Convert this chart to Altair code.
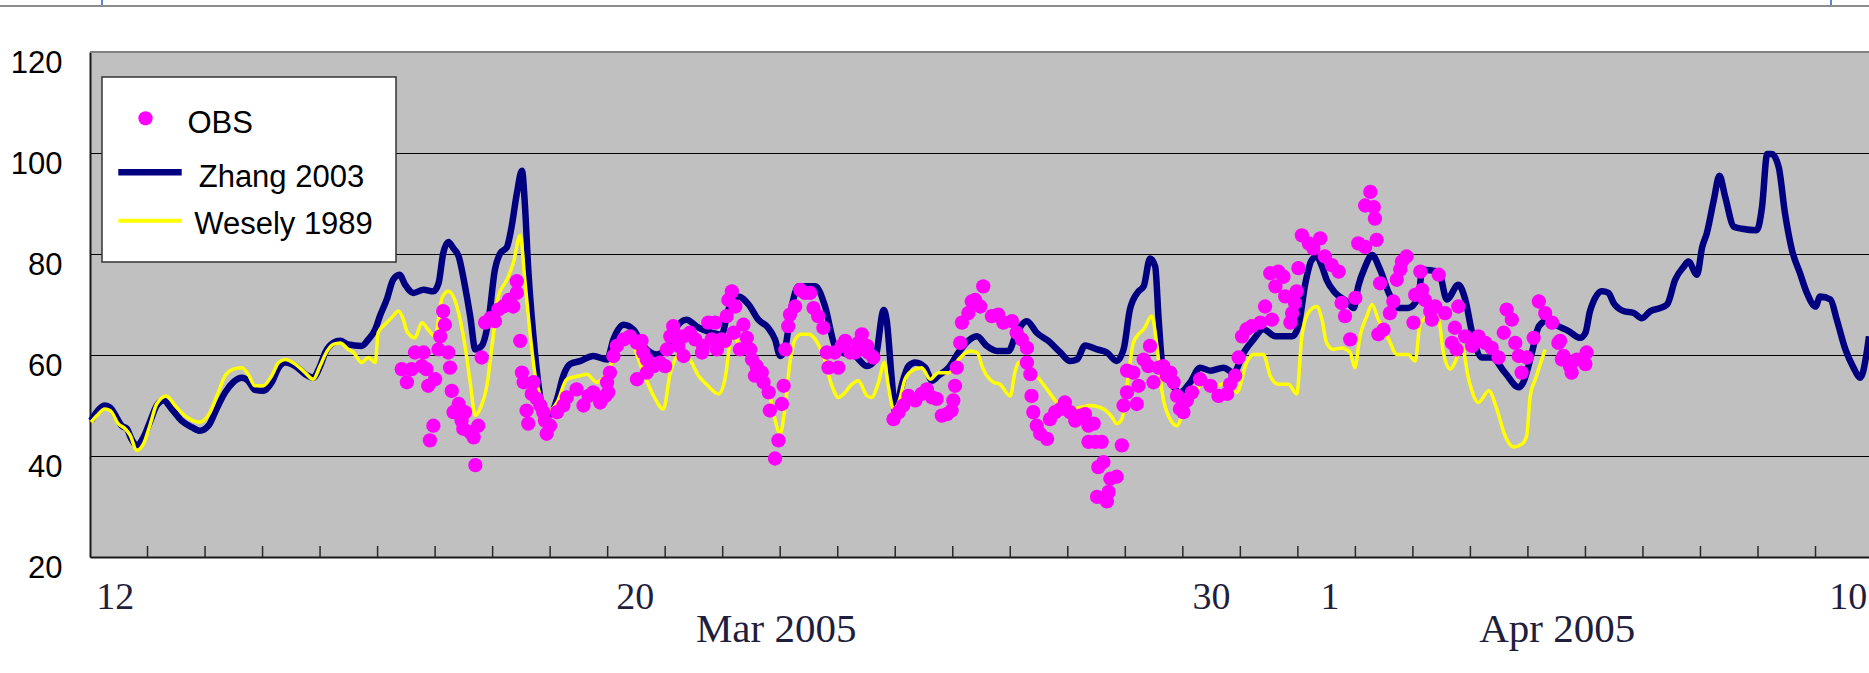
import altair as alt
import pandas as pd

# ---- data (x = days after the first tick, y = concentration) ----
ZHANG = [
    (0.02, 47.0), (0.09, 48.3), (0.26, 50.0), (0.35, 49.6), (0.46, 47.7), (0.55, 46.0), (0.64, 45.4),
    (0.72, 43.4), (0.81, 42.1), (0.93, 43.7), (1.04, 46.7), (1.16, 50.0), (1.28, 51.0), (1.42, 49.3),
    (1.59, 47.0), (1.77, 45.7), (1.91, 45.0), (2.06, 46.0), (2.20, 49.3), (2.35, 52.6), (2.49, 54.6),
    (2.64, 55.5), (2.75, 54.9), (2.87, 53.1), (3.01, 52.9), (3.16, 54.6), (3.28, 57.5), (3.39, 58.5),
    (3.57, 57.8), (3.74, 56.2), (3.88, 55.5), (4.00, 57.8), (4.09, 60.5), (4.23, 62.4), (4.35, 62.8),
    (4.49, 62.1), (4.72, 61.8), (4.84, 63.1), (4.96, 65.1), (5.04, 67.7), (5.16, 71.0), (5.27, 74.9),
    (5.38, 75.9), (5.48, 73.9), (5.62, 72.3), (5.80, 72.9), (5.97, 72.6), (6.06, 74.2), (6.14, 80.1),
    (6.23, 82.4), (6.32, 81.1), (6.41, 79.5), (6.52, 73.6), (6.61, 67.7), (6.70, 61.1), (6.81, 61.8),
    (6.93, 67.0), (7.04, 76.9), (7.13, 80.1), (7.25, 81.4), (7.33, 85.4), (7.42, 91.9), (7.51, 96.5),
    (7.56, 90.0), (7.62, 76.9), (7.71, 63.7), (7.80, 53.9), (7.88, 48.7), (8.00, 48.3), (8.12, 51.3),
    (8.23, 55.9), (8.35, 58.2), (8.52, 58.8), (8.75, 59.8), (8.99, 59.1), (9.10, 63.1), (9.28, 66.0),
    (9.45, 65.0), (9.62, 61.8), (9.85, 60.1), (10.03, 61.1), (10.17, 65.0), (10.37, 67.0), (10.58, 65.4),
    (10.81, 64.4), (10.98, 64.0), (11.10, 69.0), (11.27, 71.6), (11.45, 70.0), (11.62, 67.0), (11.79, 65.4),
    (11.91, 63.1), (12.00, 59.8), (12.08, 61.1), (12.20, 69.6), (12.32, 73.6), (12.61, 73.6), (12.78, 69.6),
    (12.95, 61.8), (13.07, 60.5), (13.30, 59.8), (13.51, 57.8), (13.65, 59.1), (13.80, 68.9), (13.85, 67.0),
    (13.94, 55.2), (14.00, 48.7), (14.11, 53.9), (14.23, 57.8), (14.35, 58.5), (14.52, 57.5), (14.64, 54.9),
    (14.75, 55.9), (14.93, 57.5), (15.10, 60.5), (15.30, 63.1), (15.42, 63.7), (15.59, 61.8), (15.77, 60.8),
    (15.97, 60.8), (16.11, 64.4), (16.29, 66.7), (16.46, 64.4), (16.66, 62.8), (16.87, 60.5), (17.04, 58.8),
    (17.16, 59.1), (17.30, 61.9), (17.51, 61.1), (17.68, 60.5), (17.85, 58.8), (17.97, 61.1), (18.08, 69.0),
    (18.23, 72.6), (18.32, 73.6), (18.43, 79.1), (18.52, 77.5), (18.58, 67.0), (18.66, 56.5), (18.78, 54.6),
    (18.95, 52.6), (19.13, 54.6), (19.30, 57.5), (19.48, 56.9), (19.71, 57.5), (19.88, 56.5), (20.06, 60.5),
    (20.23, 63.1), (20.40, 65.1), (20.61, 63.7), (20.90, 63.7), (21.01, 65.7), (21.13, 74.2), (21.24, 78.8),
    (21.33, 79.5), (21.42, 77.5), (21.50, 74.9), (21.65, 72.3), (21.85, 70.6), (21.97, 69.3), (22.05, 73.6),
    (22.17, 77.5), (22.29, 79.8), (22.43, 76.9), (22.58, 72.3), (22.75, 69.3), (22.92, 69.3), (23.10, 71.6),
    (23.16, 76.9), (23.45, 76.5), (23.59, 71.0), (23.79, 73.9), (23.91, 71.0), (24.03, 64.4), (24.20, 59.5),
    (24.37, 59.5), (24.60, 56.5), (24.84, 53.6), (24.92, 54.6), (25.07, 60.5), (25.19, 65.7), (25.36, 67.0),
    (25.53, 65.7), (25.70, 64.8), (25.91, 63.4), (26.00, 64.4), (26.08, 68.7), (26.29, 72.6), (26.40, 72.3),
    (26.49, 70.3), (26.66, 68.7), (26.84, 68.3), (26.98, 67.3), (27.13, 68.7), (27.30, 69.3), (27.42, 70.0),
    (27.56, 74.9), (27.71, 77.5), (27.79, 78.5), (27.94, 75.9), (28.03, 81.4), (28.11, 84.1), (28.23, 90.6),
    (28.33, 95.5), (28.43, 91.3), (28.58, 85.4), (28.72, 85.0), (28.98, 84.7), (29.07, 89.3), (29.16, 99.8),
    (29.24, 99.8), (29.36, 97.2), (29.47, 88.0), (29.59, 80.8), (29.73, 76.2), (29.85, 72.3), (30.00, 69.6),
    (30.08, 71.6), (30.26, 71.0), (30.37, 67.0), (30.52, 61.1), (30.66, 57.5), (30.78, 55.5), (30.89, 60.5),
    (30.93, 63.7),
]

WESELY = [
    (0.02, 46.7), (0.12, 48.0), (0.26, 49.3), (0.35, 49.0), (0.49, 46.4), (0.61, 45.4), (0.70, 44.1),
    (0.81, 41.1), (0.93, 42.4), (1.04, 46.0), (1.16, 50.3), (1.33, 51.9), (1.48, 50.0), (1.65, 48.0),
    (1.91, 46.7), (2.09, 48.7), (2.23, 52.6), (2.35, 55.9), (2.49, 57.2), (2.64, 57.5), (2.75, 56.2),
    (2.87, 53.9), (3.01, 53.9), (3.16, 55.9), (3.28, 58.5), (3.39, 59.1), (3.57, 58.2), (3.74, 56.5),
    (3.88, 55.2), (4.00, 57.8), (4.09, 60.1), (4.23, 62.1), (4.35, 62.4), (4.49, 61.1), (4.58, 60.5),
    (4.72, 58.5), (4.84, 59.5), (4.96, 58.5), (5.01, 64.4), (5.16, 66.4), (5.27, 67.7), (5.36, 68.7),
    (5.45, 67.0), (5.51, 64.7), (5.65, 63.4), (5.77, 66.4), (5.88, 65.0), (6.00, 63.7), (6.12, 71.3),
    (6.23, 72.6), (6.38, 69.6), (6.52, 61.8), (6.61, 54.6), (6.70, 48.0), (6.78, 49.3), (6.90, 53.9),
    (7.01, 63.7), (7.10, 71.6), (7.25, 74.9), (7.36, 78.2), (7.48, 83.7), (7.56, 74.9), (7.65, 64.4),
    (7.74, 55.9), (7.83, 51.9), (7.94, 48.7), (8.12, 50.6), (8.29, 55.2), (8.52, 55.9), (8.64, 56.2),
    (8.81, 54.6), (8.99, 56.5), (9.22, 61.8), (9.39, 62.4), (9.62, 56.5), (9.80, 51.9), (9.97, 49.3),
    (10.09, 56.5), (10.29, 60.5), (10.43, 59.1), (10.58, 55.9), (10.72, 54.2), (10.93, 52.3), (11.04, 55.2),
    (11.13, 62.4), (11.19, 63.7), (11.33, 61.1), (11.56, 59.1), (11.74, 56.5), (11.88, 48.7), (12.00, 44.4),
    (12.08, 49.3), (12.17, 58.5), (12.26, 63.1), (12.37, 64.1), (12.49, 64.1), (12.61, 63.1), (12.75, 59.8),
    (12.90, 53.9), (13.01, 51.6), (13.13, 52.6), (13.22, 53.9), (13.36, 54.9), (13.51, 51.9), (13.59, 51.6),
    (13.71, 54.6), (13.81, 58.5), (13.88, 53.9), (13.97, 49.3), (14.06, 50.6), (14.17, 55.2), (14.29, 56.9),
    (14.46, 57.5), (14.61, 55.2), (14.75, 56.5), (14.93, 56.5), (15.10, 59.1), (15.30, 60.8), (15.42, 60.5),
    (15.53, 57.2), (15.71, 54.6), (15.82, 54.2), (16.00, 51.9), (16.08, 56.5), (16.14, 58.5), (16.26, 58.8),
    (16.46, 55.9), (16.64, 53.2), (16.81, 50.6), (16.98, 49.3), (17.22, 49.6), (17.39, 50.0), (17.62, 49.3),
    (17.77, 47.7), (17.85, 46.4), (17.94, 47.3), (18.03, 53.9), (18.14, 62.4), (18.23, 64.1), (18.32, 65.1),
    (18.46, 67.7), (18.55, 61.8), (18.64, 52.6), (18.78, 47.3), (18.90, 46.0), (19.01, 48.7), (19.19, 51.9),
    (19.36, 54.6), (19.59, 53.9), (19.77, 54.6), (19.94, 52.6), (20.11, 58.5), (20.23, 60.1), (20.40, 60.1),
    (20.52, 55.9), (20.66, 54.2), (20.84, 54.2), (20.98, 52.3), (21.07, 63.7), (21.18, 68.3), (21.33, 69.6),
    (21.42, 67.0), (21.50, 62.4), (21.62, 61.1), (21.76, 61.4), (21.91, 60.5), (21.99, 57.5), (22.08, 63.7),
    (22.20, 67.7), (22.29, 70.0), (22.40, 67.0), (22.58, 63.1), (22.72, 60.1), (22.92, 60.1), (23.04, 58.8),
    (23.13, 66.4), (23.19, 67.0), (23.33, 68.3), (23.45, 67.0), (23.53, 60.5), (23.65, 57.2), (23.73, 58.5),
    (23.85, 61.8), (23.97, 55.2), (24.14, 50.6), (24.32, 52.9), (24.46, 49.3), (24.60, 44.1), (24.75, 41.8),
    (24.90, 42.4), (24.98, 44.1), (25.04, 51.9), (25.13, 55.2), (25.30, 61.1),
]

OBS = [
    (5.42, 57.2), (5.51, 54.6), (5.59, 57.2), (5.65, 60.5), (5.77, 57.8), (5.80, 60.5), (5.85, 57.2),
    (5.88, 53.9), (5.91, 43.1), (5.97, 46.0), (6.00, 55.2), (6.06, 61.1), (6.09, 63.7), (6.14, 68.7),
    (6.17, 66.0), (6.23, 60.5), (6.26, 57.5), (6.29, 52.9), (6.32, 48.7), (6.41, 50.3), (6.46, 47.0),
    (6.49, 45.4), (6.52, 48.7), (6.61, 44.7), (6.67, 43.7), (6.70, 38.2), (6.75, 46.0), (6.81, 59.5),
    (6.87, 66.4), (6.96, 67.3), (7.04, 66.7), (7.10, 69.0), (7.19, 69.6), (7.28, 70.9), (7.36, 69.6),
    (7.42, 72.3), (7.42, 74.6), (7.48, 62.8), (7.51, 56.5), (7.54, 54.6), (7.59, 49.0), (7.62, 46.4),
    (7.68, 52.3), (7.71, 54.6), (7.77, 51.3), (7.83, 50.0), (7.88, 48.7), (7.91, 47.0), (7.94, 44.4),
    (8.00, 46.0), (8.12, 48.7), (8.23, 50.0), (8.29, 51.6), (8.46, 53.2), (8.58, 50.0), (8.67, 51.9),
    (8.75, 52.6), (8.87, 50.6), (8.96, 51.9), (8.99, 54.6), (9.01, 52.6), (9.04, 56.5), (9.10, 59.8),
    (9.16, 61.8), (9.28, 63.1), (9.39, 63.7), (9.51, 62.4), (9.51, 55.2), (9.59, 62.8), (9.62, 60.5),
    (9.68, 59.1), (9.68, 56.5), (9.80, 57.8), (9.91, 58.5), (10.00, 57.8), (10.03, 61.1), (10.09, 63.7),
    (10.14, 65.7), (10.23, 61.8), (10.23, 63.7), (10.32, 63.7), (10.32, 59.8), (10.43, 64.4), (10.52, 63.1),
    (10.64, 60.5), (10.66, 61.8), (10.75, 66.4), (10.81, 63.1), (10.87, 66.4), (10.90, 61.1), (10.98, 63.1),
    (11.04, 62.8), (11.07, 67.7), (11.10, 70.9), (11.16, 72.6), (11.19, 64.4), (11.22, 69.6), (11.30, 61.1),
    (11.36, 66.0), (11.42, 63.4), (11.48, 61.1), (11.51, 59.1), (11.56, 55.9), (11.59, 57.8), (11.68, 56.5),
    (11.71, 54.6), (11.80, 52.6), (11.82, 49.0), (11.91, 39.5), (11.97, 43.1), (12.03, 50.3), (12.06, 53.9),
    (12.09, 61.1), (12.14, 65.7), (12.17, 68.0), (12.26, 69.6), (12.35, 72.9), (12.43, 72.3), (12.52, 72.3),
    (12.58, 69.3), (12.66, 67.7), (12.75, 65.4), (12.81, 60.5), (12.84, 57.5), (12.95, 60.5), (13.01, 57.5),
    (13.07, 61.8), (13.13, 62.8), (13.22, 60.5), (13.30, 60.5), (13.36, 62.4), (13.42, 64.1), (13.51, 61.8),
    (13.53, 60.5), (13.62, 59.5), (13.97, 47.3), (14.06, 48.7), (14.14, 50.0), (14.23, 51.9), (14.35, 51.0),
    (14.46, 52.3), (14.55, 53.2), (14.64, 51.6), (14.72, 51.3), (14.81, 48.0), (14.90, 48.3), (14.98, 49.0),
    (15.01, 51.0), (15.04, 53.9), (15.07, 57.5), (15.13, 62.4), (15.16, 66.4), (15.27, 68.3), (15.33, 70.6),
    (15.39, 70.9), (15.48, 69.6), (15.53, 73.6), (15.68, 67.7), (15.79, 68.0), (15.88, 66.4), (16.03, 66.7),
    (16.11, 64.4), (16.20, 63.1), (16.29, 61.4), (16.29, 58.5), (16.35, 56.2), (16.37, 51.9), (16.40, 48.7),
    (16.46, 46.0), (16.52, 44.4), (16.64, 43.4), (16.69, 47.3), (16.78, 48.7), (16.87, 49.3), (16.95, 50.6),
    (17.04, 48.7), (17.13, 47.0), (17.22, 48.0), (17.30, 48.3), (17.36, 46.0), (17.45, 46.4), (17.36, 42.8),
    (17.48, 42.8), (17.59, 42.8), (17.53, 37.8), (17.62, 38.8), (17.74, 35.5), (17.85, 35.9), (17.51, 31.9),
    (17.68, 31.0), (17.71, 32.9), (17.94, 42.1), (17.97, 50.0), (18.03, 52.6), (18.03, 56.9), (18.14, 56.5),
    (18.20, 50.3), (18.23, 53.9), (18.32, 59.1), (18.40, 57.8), (18.43, 61.8), (18.49, 54.6), (18.58, 57.5),
    (18.66, 57.8), (18.72, 55.9), (18.78, 56.5), (18.84, 54.6), (18.90, 51.9), (18.95, 49.3), (19.01, 48.7),
    (19.07, 51.0), (19.16, 52.6), (19.30, 55.2), (19.48, 53.9), (19.62, 51.9), (19.77, 52.3), (19.82, 54.2),
    (19.91, 55.9), (19.97, 59.5), (20.03, 63.7), (20.11, 65.1), (20.20, 65.7), (20.35, 66.4), (20.43, 69.6),
    (20.52, 76.2), (20.55, 67.0), (20.61, 73.6), (20.66, 76.5), (20.75, 75.5), (20.78, 71.6), (20.87, 66.4),
    (20.90, 68.3), (20.95, 70.3), (20.98, 72.6), (21.01, 77.2), (21.07, 83.7), (21.19, 82.1), (21.27, 81.1),
    (21.39, 83.1), (21.47, 79.5), (21.59, 77.8), (21.71, 76.5), (21.76, 70.3), (21.82, 67.7), (21.91, 63.1),
    (22.00, 71.3), (22.05, 82.1), (22.17, 81.4), (22.17, 89.6), (22.26, 92.3), (22.32, 89.3), (22.34, 87.0),
    (22.37, 82.8), (22.40, 64.1), (22.43, 74.2), (22.49, 65.0), (22.60, 68.3), (22.66, 70.6), (22.72, 74.9),
    (22.78, 76.9), (22.81, 78.5), (22.89, 79.5), (23.01, 66.4), (23.04, 71.9), (23.13, 76.5), (23.16, 72.9),
    (23.21, 70.9), (23.30, 68.7), (23.33, 67.0), (23.39, 69.6), (23.45, 75.9), (23.56, 68.3), (23.68, 62.4),
    (23.73, 65.4), (23.76, 61.1), (23.79, 69.6), (23.91, 63.7), (24.03, 61.8), (24.14, 63.7), (24.26, 62.4),
    (24.37, 61.4), (24.49, 59.5), (24.58, 64.4), (24.63, 69.0), (24.72, 67.0), (24.78, 62.4), (24.84, 59.8),
    (24.89, 56.5), (24.98, 59.5), (25.10, 63.4), (25.19, 70.6), (25.30, 68.3), (25.42, 66.4), (25.53, 62.4),
    (25.56, 62.8), (25.59, 59.1), (25.62, 59.8), (25.73, 57.8), (25.76, 56.5), (25.85, 59.1), (26.00, 58.2),
    (26.02, 60.5),
]

SERIES = ["OBS", "Zhang 2003", "Wesely 1989"]
Y_TICKS = [20, 40, 60, 80, 100, 120]
TICK_DAYS = list(range(1, 31))
DAY_LABELS = ["12", "20", "30", "1", "10"]
DAY_LABEL_POS = [0.43, 9.47, 19.49, 21.55, 30.56]
MONTH_LABELS = ["Mar 2005", "Apr 2005"]
MONTH_LABEL_POS = [11.93, 25.51]

# ---- layout / style ----
W, H = 1779, 505
X_DOMAIN = [0, 30.93]
NAVY, YELLOW, MAGENTA = "#000080", "#FFFF00", "#FF00FF"
LBL_COLOR = "#1f1f3d"


def label_expr(pos, labels):
    expr = f"'{labels[-1]}'"
    for i in range(len(pos) - 2, -1, -1):
        mid = (pos[i] + pos[i + 1]) / 2
        expr = f"datum.value < {mid:.3f} ? '{labels[i]}' : ({expr})"
    return expr


x_scale = alt.Scale(domain=X_DOMAIN, nice=False, zero=False)
y_scale = alt.Scale(domain=[Y_TICKS[0], Y_TICKS[-1]], nice=False, zero=False)

x_axis = alt.Axis(
    values=DAY_LABEL_POS, labelExpr=label_expr(DAY_LABEL_POS, DAY_LABELS),
    ticks=False, grid=False, domainColor="#1a1a1a", domainWidth=2,
    labelFont="Liberation Serif", labelFontSize=38, labelColor=LBL_COLOR,
    labelPadding=51, labelBaseline="alphabetic", labelAlign="center",
    labelFlush=False, labelOverlap=False, title=None,
)
y_axis = alt.Axis(
    values=Y_TICKS, grid=True, gridColor="#000000", gridWidth=1,
    ticks=False, domainColor="#1a1a1a", domainWidth=2,
    labelFont="Liberation Sans", labelFontSize=31, labelColor="#000000",
    labelPadding=28, labelBaseline="alphabetic", labelOffset=20, labelAlign="right",
    labelFlush=False, labelOverlap=False, title=None,
)

X = alt.X("day:Q", scale=x_scale, axis=x_axis)
Y = alt.Y("value:Q", scale=y_scale, axis=y_axis)

zhang_df = pd.DataFrame(ZHANG, columns=["day", "value"])
wesely_df = pd.DataFrame(WESELY, columns=["day", "value"])
obs_df = pd.DataFrame(OBS, columns=["day", "value"])
ticks_df = pd.DataFrame({"day": TICK_DAYS})
months_df = pd.DataFrame({"day": MONTH_LABEL_POS, "label": MONTH_LABELS})
one = alt.Data(values=[{"k": 0}])

zhang = alt.Chart(zhang_df).mark_line(
    color=NAVY, strokeWidth=6.5, interpolate="monotone", strokeJoin="round"
).encode(x=X, y=Y)
wesely = alt.Chart(wesely_df).mark_line(
    color=YELLOW, strokeWidth=3.5, interpolate="monotone", strokeJoin="round"
).encode(x=X, y=Y)
obs = alt.Chart(obs_df).mark_circle(color=MAGENTA, size=205, opacity=1).encode(x=X, y=Y)

ticks = alt.Chart(ticks_df).mark_rule(color="#2a2a2a", strokeWidth=1.5).encode(
    x=X, y=alt.value(H), y2=alt.value(H - 11))
top_border = alt.Chart(one).mark_rule(color="#808080", strokeWidth=2).encode(
    x=alt.value(0), x2=alt.value(W), y=alt.value(0))
months = alt.Chart(months_df).mark_text(
    font="Liberation Serif", fontSize=41, color=LBL_COLOR, baseline="alphabetic", align="center"
).encode(x=X, y=alt.value(H + 85), text="label:N")

# legend (drawn by hand, top-left inside the plot)
leg_box = alt.Chart(one).mark_rect(fill="white", stroke="#333333", strokeWidth=1.5).encode(
    x=alt.value(12), x2=alt.value(306), y=alt.value(25), y2=alt.value(210))
leg_dot = alt.Chart(one).mark_circle(color=MAGENTA, size=205, opacity=1).encode(
    x=alt.value(55.5), y=alt.value(66.3))
leg_navy = alt.Chart(one).mark_rule(color=NAVY, strokeWidth=6.5).encode(
    x=alt.value(28.3), x2=alt.value(91.7), y=alt.value(120.3))
leg_yel = alt.Chart(one).mark_rule(color=YELLOW, strokeWidth=4).encode(
    x=alt.value(28.3), x2=alt.value(91.7), y=alt.value(168.7))
leg_font = dict(font="Liberation Sans", fontSize=31, color="#000000", align="left", baseline="alphabetic")
leg_t1 = alt.Chart(one).mark_text(text=SERIES[0], **leg_font).encode(x=alt.value(97.5), y=alt.value(81.3))
leg_t2 = alt.Chart(one).mark_text(text=SERIES[1], **leg_font).encode(x=alt.value(108.7), y=alt.value(134.7))
leg_t3 = alt.Chart(one).mark_text(text=SERIES[2], **leg_font).encode(x=alt.value(104.2), y=alt.value(182.3))

# thin strip at the very top of the picture
strip = alt.Chart(one).mark_rule(color="#8c8c8c", strokeWidth=2).encode(
    x=alt.value(-90), x2=alt.value(W), y=alt.value(-46))
strip_m1 = alt.Chart(one).mark_rule(color="#5b82e8", strokeWidth=2).encode(
    x=alt.value(12), y=alt.value(-52), y2=alt.value(-47))
strip_m2 = alt.Chart(one).mark_rule(color="#5b82e8", strokeWidth=2).encode(
    x=alt.value(1741), y=alt.value(-52), y2=alt.value(-47))

chart = alt.layer(
    zhang, wesely, obs, ticks, top_border, months,
    leg_box, leg_dot, leg_navy, leg_yel, leg_t1, leg_t2, leg_t3,
    strip, strip_m1, strip_m2,
).properties(
    width=W, height=H,
    padding={"left": 90, "top": 52, "right": 0, "bottom": 116},
    autosize=alt.AutoSizeParams(type="none"),
    background="white",
).configure_view(fill="#C0C0C0", stroke=None)

chart.save("out.html", embed_options={"renderer": "svg", "actions": False})
